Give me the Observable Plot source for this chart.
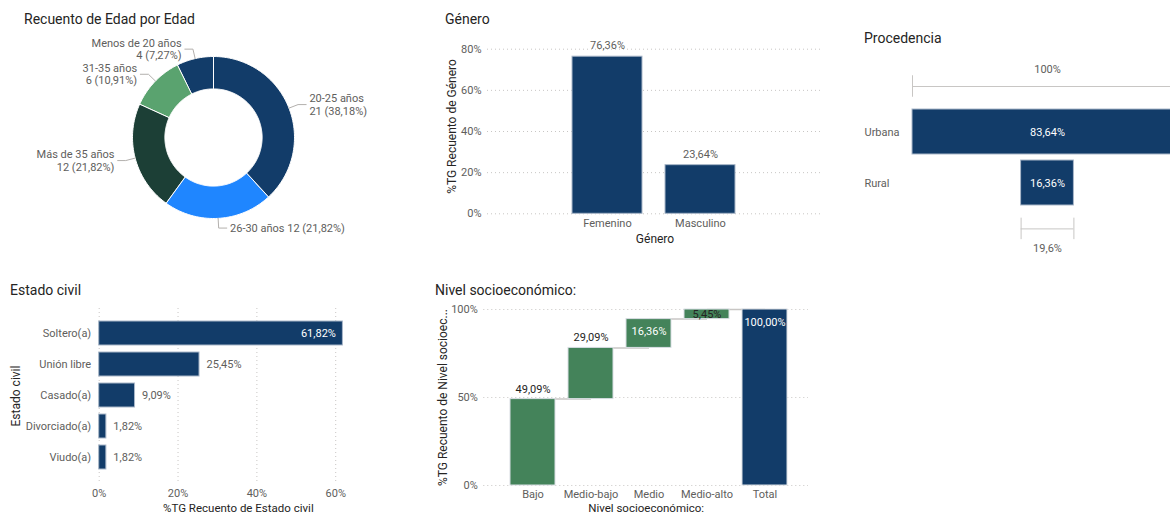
<!DOCTYPE html>
<html><head><meta charset="utf-8">
<script src="https://cdn.jsdelivr.net/npm/d3@7"></script>
<script src="https://cdn.jsdelivr.net/npm/@observablehq/plot@0.6"></script>
<style>
html,body{margin:0;padding:0;background:#fff;}
#root{position:relative;width:1170px;height:515px;overflow:hidden;font-family:Roboto,"DejaVu Sans",sans-serif;}
.title{position:absolute;font-size:14px;line-height:20px;color:#252423;white-space:nowrap;}
</style></head><body>
<div id="root"></div>
<script>
// ---------- data ----------
const edadCats = ["20-25 años", "26-30 años", "Más de 35 años", "31-35 años", "Menos de 20 años"];
const edadCounts = [21, 12, 12, 6, 4];
const generoCats = ["Femenino", "Masculino"];
const generoPct = [76.36, 23.64];
const generoTicks = [0, 20, 40, 60, 80];
const procCats = ["Urbana", "Rural"];
const procPct = [83.64, 16.36];
const civilCats = ["Soltero(a)", "Unión libre", "Casado(a)", "Divorciado(a)", "Viudo(a)"];
const civilPct = [61.82, 25.45, 9.09, 1.82, 1.82];
const civilTicks = [0, 20, 40, 60];
const nivelCats = ["Bajo", "Medio-bajo", "Medio", "Medio-alto"];
const nivelPct = [49.09, 29.09, 16.36, 5.45];
const nivelTotalLabel = ["Total"];
const nivelTotal = [100];
const nivelTicks = [0, 50, 100];
const titles = ["Recuento de Edad por Edad", "Género", "Procedencia", "Estado civil", "Nivel socioeconómico:"];

// ---------- style ----------
const FONT = 'Roboto, "DejaVu Sans", sans-serif';
const GREY = "#605E5C", DARK = "#252423", NAVY = "#123C69", GREEN = "#44835A", GRID = "#C8C6C4", EDGE = "#A9B7C9";
const fmt2 = v => v.toFixed(2).replace(".", ",") + "%";
const fmt1 = v => (Math.round(v * 10) / 10).toString().replace(".", ",") + "%";
const root = document.getElementById("root");
function place(svg) {
  svg.style.position = "absolute"; svg.style.left = "0"; svg.style.top = "0";
  svg.style.background = "transparent"; svg.style.maxWidth = "none"; svg.style.overflow = "visible";
  svg.style.fontFamily = FONT; svg.style.fontSize = "11px"; svg.style.color = GREY;
  root.appendChild(svg);
}
function title(text, left, cy) {
  const d = document.createElement("div");
  d.className = "title"; d.textContent = text;
  d.style.left = left + "px"; d.style.top = (cy - 10) + "px";
  root.appendChild(d);
}
title(titles[0], 24, 19);
title(titles[1], 445, 19);
title(titles[2], 864, 38);
title(titles[3], 10, 290);
title(titles[4], 435, 290);

// ---------- 1. donut ----------
const edadTotal = d3.sum(edadCounts);
const arcs = d3.pie().sort(null).value(d => d)(edadCounts);
const INNER = 0.6;
const donutPts = arcs.flatMap((a, i) => {
  const n = Math.max(6, Math.ceil((a.endAngle - a.startAngle) / 0.02));
  const ts = d3.range(n + 1).map(k => a.startAngle + (a.endAngle - a.startAngle) * k / n);
  const outer = ts.map(t => ({cat: edadCats[i], x: Math.sin(t), y: Math.cos(t)}));
  const inner = ts.slice().reverse().map(t => ({cat: edadCats[i], x: INNER * Math.sin(t), y: INNER * Math.cos(t)}));
  return outer.concat(inner);
});
const leaders = [], edadLabels = [];
arcs.forEach((a, i) => {
  const m = (a.startAngle + a.endAngle) / 2, s = Math.sin(m), c = Math.cos(m);
  const side = s >= 0 ? 1 : -1;
  const ex = 1.12 * s, ey = 1.12 * c;
  const cat = edadCats[i];
  leaders.push({cat, x: s, y: c}, {cat, x: ex, y: ey}, {cat, x: ex + side * 0.1, y: ey});
  const val = `${edadCounts[i]} (${fmt2(edadCounts[i] / edadTotal * 100)})`;
  const bottom = c < -0.9;
  edadLabels.push({x: ex + side * 0.14, y: ey, anchor: side > 0 ? "start" : "end",
    text: bottom ? `${cat} ${val}` : `${cat}\n${val}`});
});
place(Plot.plot({
  width: 1170, height: 515,
  x: {domain: [-1, 1], range: [132, 294], axis: null},
  y: {domain: [-1, 1], range: [218, 56], axis: null},
  color: {domain: edadCats, range: [NAVY, "#1F86FF", "#1C3F36", "#5AA36F", NAVY]},
  marks: [
    Plot.line(donutPts, {x: "x", y: "y", z: "cat", fill: "cat", stroke: "white", strokeWidth: 1, curve: "linear-closed"}),
    Plot.line(leaders, {x: "x", y: "y", z: "cat", stroke: "#B3B0AD", strokeWidth: 1}),
    Plot.text(edadLabels.filter(d => d.anchor === "start"), {x: "x", y: "y", text: "text", textAnchor: "start", lineAnchor: "middle", fill: GREY, fontSize: 11, lineHeight: 1.1}),
    Plot.text(edadLabels.filter(d => d.anchor === "end"), {x: "x", y: "y", text: "text", textAnchor: "end", lineAnchor: "middle", fill: GREY, fontSize: 11, lineHeight: 1.1})
  ]
}));

// ---------- 2. género ----------
const genero = generoCats.map((c, i) => ({cat: c, v: generoPct[i]}));
place(Plot.plot({
  width: 1170, height: 515,
  marginLeft: 487, marginRight: 348, marginTop: 48.7, marginBottom: 301.7,
  x: {type: "band", domain: generoCats, range: [561, 747], paddingInner: 0.243, paddingOuter: 0.1215},
  y: {domain: [0, 80]},
  marks: [
    Plot.ruleY(generoTicks, {stroke: GRID, strokeDasharray: "1,3"}),
    Plot.barY(genero, {x: "cat", y: "v", fill: NAVY, stroke: EDGE, strokeWidth: 1}),
    Plot.text(genero, {x: "cat", y: "v", text: d => fmt2(d.v), dy: -11, fill: GREY, fontSize: 11}),
    Plot.axisY(generoTicks, {tickSize: 0, tickPadding: 6, tickFormat: d => d + "%", fill: GREY, fontSize: 11, label: null}),
    Plot.axisX({tickSize: 0, tickPadding: 5, fill: GREY, fontSize: 11, label: null}),
    Plot.text(["Género"], {frameAnchor: "bottom", dy: 25, lineAnchor: "middle", text: d => d, fill: DARK, fontSize: 12}),
    Plot.text(["%TG Recuento de Género"], {frameAnchor: "left", rotate: -90, textAnchor: "middle", lineAnchor: "middle", dx: -35, dy: -5, text: d => d, fill: DARK, fontSize: 12})
  ]
}));

// ---------- 3. procedencia (funnel) ----------
const maxP = d3.max(procPct);
const proc = procCats.map((c, i) => ({cat: c, v: procPct[i], r: procPct[i] / maxP * 100}));
const procFirst = [proc[0]], procLast = [proc[proc.length - 1]];
const BW = 45.5;
place(Plot.plot({
  width: 1170, height: 515,
  marginLeft: 912, marginRight: 0,
  x: {domain: [-50, 50], range: [912, 1182], axis: null},
  y: {type: "band", domain: procCats, range: [106.2, 208.4], paddingInner: 0.108, paddingOuter: 0.054},
  marks: [
    Plot.barX(proc, {y: "cat", x1: d => -d.r / 2, x2: d => d.r / 2, fill: NAVY, stroke: EDGE, strokeWidth: 1}),
    Plot.text(proc, {y: "cat", x: 0, text: d => fmt2(d.v), fill: "white", fontSize: 11}),
    Plot.axisY({tickSize: 0, tickPadding: 48, textAnchor: "start", fill: GREY, fontSize: 11, label: null}),
    // top bracket (100%)
    Plot.ruleY(procFirst, {y: "cat", x1: d => -d.r / 2, x2: d => d.r / 2, dy: -BW, stroke: GRID}),
    Plot.tickX(procFirst, {y: "cat", x: d => -d.r / 2, dy: -BW, insetTop: 11.75, insetBottom: 11.75, stroke: GRID}),
    Plot.tickX(procFirst, {y: "cat", x: d => d.r / 2, dy: -BW, insetTop: 11.75, insetBottom: 11.75, stroke: GRID}),
    Plot.text(procFirst, {y: "cat", x: 0, dy: -62.5, text: d => Math.round(d.v / proc[0].v * 100) + "%", fill: GREY, fontSize: 11}),
    // bottom bracket (conversion)
    Plot.ruleY(procLast, {y: "cat", x1: d => -d.r / 2, x2: d => d.r / 2, dy: BW + 0.4, stroke: GRID}),
    Plot.tickX(procLast, {y: "cat", x: d => -d.r / 2, dy: BW + 0.4, insetTop: 11.75, insetBottom: 11.75, stroke: GRID}),
    Plot.tickX(procLast, {y: "cat", x: d => d.r / 2, dy: BW + 0.4, insetTop: 11.75, insetBottom: 11.75, stroke: GRID}),
    Plot.text(procLast, {y: "cat", x: 0, dy: 65, text: d => fmt1(d.r), fill: GREY, fontSize: 11})
  ]
}));

// ---------- 4. estado civil ----------
const civil = civilCats.map((c, i) => ({cat: c, v: civilPct[i]}));
place(Plot.plot({
  width: 1170, height: 515,
  marginLeft: 98.7, marginRight: 793, marginTop: 308, marginBottom: 32,
  x: {domain: [0, 70.6]},
  y: {type: "band", domain: civilCats, paddingInner: 0.225, paddingOuter: 0.38},
  marks: [
    Plot.ruleX(civilTicks, {stroke: GRID, strokeDasharray: "1,3"}),
    Plot.barX(civil, {y: "cat", x: "v", fill: NAVY, stroke: EDGE, strokeWidth: 1}),
    Plot.text(civil.filter(d => d.v > 40), {y: "cat", x: "v", dx: -7, textAnchor: "end", text: d => fmt2(d.v), fill: "white", fontSize: 11}),
    Plot.text(civil.filter(d => d.v <= 40), {y: "cat", x: "v", dx: 7, textAnchor: "start", text: d => fmt2(d.v), fill: GREY, fontSize: 11}),
    Plot.axisY({tickSize: 0, tickPadding: 8, fill: GREY, fontSize: 11, label: null}),
    Plot.axisX(civilTicks, {tickSize: 0, tickPadding: 6, tickFormat: d => d + "%", fill: GREY, fontSize: 11, label: null}),
    Plot.text(["%TG Recuento de Estado civil"], {frameAnchor: "bottom", dy: 24.5, lineAnchor: "middle", text: d => d, fill: DARK, fontSize: 11.5}),
    Plot.text(["Estado civil"], {frameAnchor: "left", rotate: -90, textAnchor: "middle", lineAnchor: "middle", dx: -83, text: d => d, fill: DARK, fontSize: 12})
  ]
}));

// ---------- 5. nivel socioeconómico (waterfall) ----------
let cum = 0;
const nivel = nivelCats.map((c, i) => {
  const y1 = cum; cum += nivelPct[i];
  return {cat: c, v: nivelPct[i], y1, y2: cum, kind: "Aumento"};
});
nivelTotalLabel.forEach((c, i) => nivel.push({cat: c, v: nivelTotal[i], y1: 0, y2: nivelTotal[i], kind: "Total"}));
const conn = nivel.slice(0, -1).map((d, i) => ({from: d.cat, to: nivel[i + 1].cat, y: d.y2}));
const nearTop = d => d.y2 > 90;
place(Plot.plot({
  width: 1170, height: 515,
  marginLeft: 483.3, marginRight: 362, marginTop: 309, marginBottom: 30,
  x: {type: "band", domain: nivel.map(d => d.cat), range: [501.7, 794.4], paddingInner: 0.227, paddingOuter: 0.1135},
  y: {domain: [0, 100]},
  color: {domain: ["Aumento", "Total"], range: [GREEN, NAVY]},
  marks: [
    Plot.ruleY(nivelTicks, {stroke: GRID, strokeDasharray: "1,3"}),
    Plot.link(conn, {x1: "from", x2: "to", y1: "y", y2: "y", stroke: "#C8C6C4", strokeWidth: 1.5}),
    Plot.barY(nivel, {x: "cat", y1: "y1", y2: "y2", fill: "kind", stroke: "#D9DEE4", strokeWidth: 1}),
    Plot.text(nivel.filter(d => !nearTop(d)), {x: "cat", y: "y2", dy: -10, text: d => fmt2(d.v), fill: DARK, fontSize: 11}),
    Plot.text(nivel.filter(d => nearTop(d) && d.y2 - d.y1 >= 8), {x: "cat", y: "y2", dy: 12.5, text: d => fmt2(d.v), fill: "white", fontSize: 11}),
    Plot.text(nivel.filter(d => nearTop(d) && d.y2 - d.y1 < 8), {x: "cat", y: d => (d.y1 + d.y2) / 2, text: d => fmt2(d.v), fill: DARK, fontSize: 11}),
    Plot.axisY(nivelTicks, {tickSize: 0, tickPadding: 6, tickFormat: d => d + "%", fill: GREY, fontSize: 11, label: null}),
    Plot.axisX({tickSize: 0, tickPadding: 5, fill: GREY, fontSize: 11, label: null}),
    Plot.text(["Nivel socioeconómico:"], {frameAnchor: "bottom", dy: 22.5, lineAnchor: "middle", text: d => d, fill: DARK, fontSize: 11.5}),
    Plot.text(["%TG Recuento de Nivel socioec..."], {frameAnchor: "left", rotate: -90, textAnchor: "middle", lineAnchor: "middle", dx: -40.6, text: d => d, fill: DARK, fontSize: 12})
  ]
}));
</script>
</body></html>
